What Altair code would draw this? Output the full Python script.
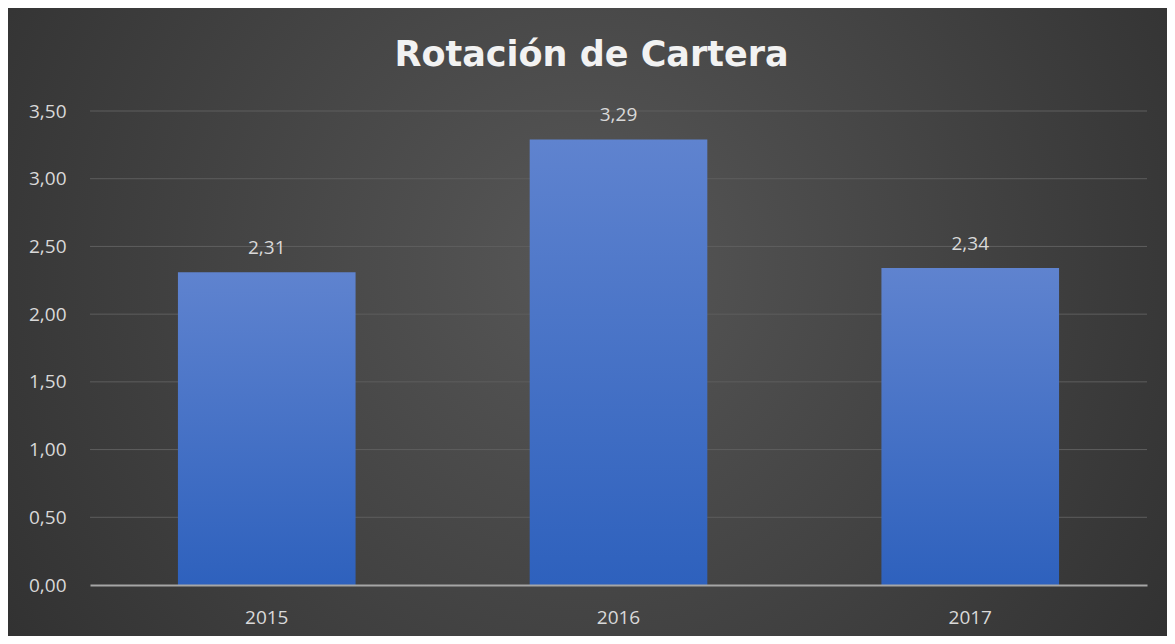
import altair as alt
import pandas as pd

years = ["2015", "2016", "2017"]
values = [2.31, 3.29, 2.34]
y_ticks = [0, 0.5, 1, 1.5, 2, 2.5, 3, 3.5]
title_text = "Rotación de Cartera"

df = pd.DataFrame({"year": years, "value": values})
grid_df = pd.DataFrame({"tick": y_ticks[1:]})

W, H = 1057, 474
PL, PT, PR, PB = 82, 103, 20, 51

bg = alt.Chart(pd.DataFrame({"k": [0]})).mark_rect(
    clip=False,
    fill=alt.Gradient(
        gradient="radial",
        x1=0.5, y1=0.45, x2=0.5, y2=0.45, r1=0, r2=0.75,
        stops=[alt.GradientStop(color="#575757", offset=0),
               alt.GradientStop(color="#282828", offset=1)],
    ),
).encode(
    x=alt.value(-PL - 1), x2=alt.value(W + PR),
    y=alt.value(-PT - 3), y2=alt.value(H + PB),
)

title = alt.Chart(pd.DataFrame({"t": [title_text]})).mark_text(
    clip=False, fontSize=35, font="DejaVu Sans", fontWeight="bold",
    color="#f2f2f2", align="center", baseline="middle",
).encode(
    text="t:N", x=alt.value(W / 2 - 27), y=alt.value(-56),
)

yscale = alt.Scale(domain=[0, 3.5], nice=False)
yaxis = alt.Axis(title=None, values=y_ticks,
                 labelExpr="replace(format(datum.value, '.2f'), '.', ',')",
                 labelFontSize=19, labelColor="#d9d9d9",
                 labelFont="Open Sans", labelPadding=24,
                 ticks=False, domain=False, grid=False, zindex=2)

grid = alt.Chart(grid_df).mark_rule(color="#5e5e5e", strokeWidth=1).encode(
    y=alt.Y("tick:Q", scale=yscale, axis=yaxis),
    x=alt.value(0), x2=alt.value(W),
)

base = alt.Chart(df)

bars = base.mark_bar(
    color=alt.Gradient(
        gradient="linear", x1=0, y1=0, x2=0, y2=1,
        stops=[alt.GradientStop(color="#5f83cf", offset=0),
               alt.GradientStop(color="#2e61bd", offset=1)],
    )
).encode(
    x=alt.X("year:N", sort=years,
            scale=alt.Scale(paddingInner=0.495, paddingOuter=0.25),
            axis=alt.Axis(title=None, labelAngle=0, labelFontSize=19,
                          labelColor="#d9d9d9", labelFont="Open Sans",
                          labelPadding=23, ticks=False, domain=True,
                          domainColor="#a6a6a6", domainWidth=2, grid=False,
                          zindex=2)),
    y=alt.Y("value:Q", scale=yscale, axis=yaxis),
)

labels = base.transform_calculate(
    lab="replace(format(datum.value, '.2f'), '.', ',')"
).mark_text(dy=-24, fontSize=19, color="#d9d9d9", font="Open Sans").encode(
    x=alt.X("year:N", sort=years),
    y=alt.Y("value:Q"),
    text="lab:N",
)

chart = alt.layer(bg, title, grid, bars, labels).properties(
    width=W, height=H,
    padding={"left": PL, "top": PT, "right": PR, "bottom": PB},
    autosize=alt.AutoSizeParams(type="none"),
    background="#3a3a3a",
).configure_view(stroke=None)

chart.save("out.html", embed_options={"renderer": "svg", "actions": False})
